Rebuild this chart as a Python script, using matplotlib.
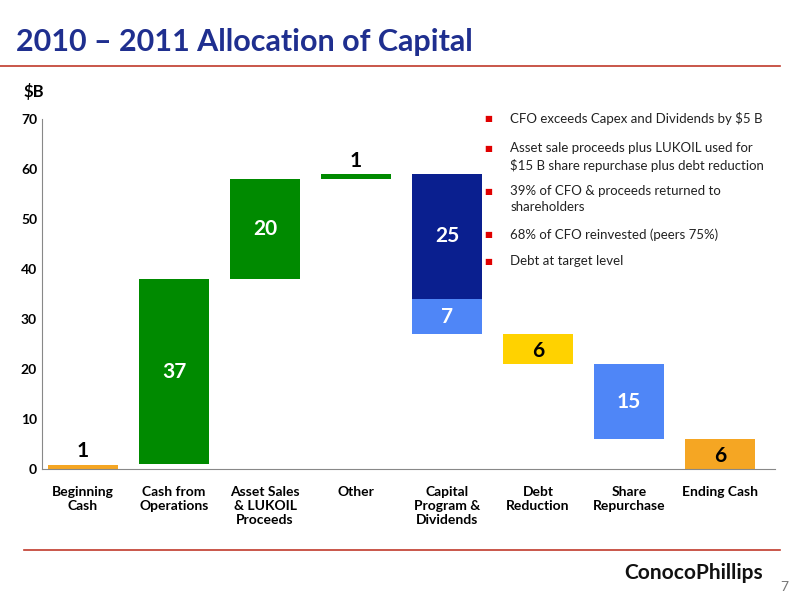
import matplotlib.pyplot as plt

plt.rcParams['font.family'] = ['Lato', 'DejaVu Sans']

categories = ['Beginning\nCash', 'Cash from\nOperations', 'Asset Sales\n& LUKOIL\nProceeds', 'Other',
              'Capital\nProgram &\nDividends', 'Debt\nReduction', 'Share\nRepurchase', 'Ending Cash']
# (position, bottom, height, colour, label) per segment
segments = [
    (0, 0, 1, '#F5A623', '1'),
    (1, 1, 37, '#008A00', '37'),
    (2, 38, 20, '#008A00', '20'),
    (3, 58, 1, '#008A00', '1'),
    (4, 34, 25, '#0A1F8F', '25'),
    (4, 27, 7, '#4F86F7', '7'),
    (5, 21, 6, '#FFD200', '6'),
    (6, 6, 15, '#4F86F7', '15'),
    (7, 0, 6, '#F5A623', '6'),
]
bullets = ['CFO exceeds Capex and Dividends by $5 B',
           'Asset sale proceeds plus LUKOIL used for\n$15 B share repurchase plus debt reduction',
           '39% of CFO & proceeds returned to\nshareholders',
           '68% of CFO reinvested (peers 75%)',
           'Debt at target level']

fig = plt.figure(figsize=(8, 6), dpi=100)
ax = fig.add_axes([0.0525, 0.218, 0.916, 0.584])
for x, b, h, c, lab in segments:
    hh = 0.8 if x == 0 else 0.9 if x == 3 else h
    ax.bar(x, hh, bottom=b, width=0.77, color=c)
    if x in (0, 3):
        ax.text(x, b + h + 0.6, lab, ha='center', va='bottom', fontsize=15, fontweight='bold')
    elif x in (5, 7):
        ax.text(x, b + h / 2 - 0.3, lab, ha='center', va='center', fontsize=15, fontweight='bold', color='black')
    else:
        ax.text(x, b + h / 2, lab, ha='center', va='center', fontsize=15, fontweight='bold', color='white')

ax.set_xlim(-0.45, 7.6)
ax.set_ylim(0, 70)
ax.set_yticks(range(0, 71, 10))
ax.set_xticks(range(len(categories)))
ax.set_xticklabels(categories, fontsize=10, fontweight='bold', va='top')
ax.tick_params(axis='x', length=0, pad=12)
ax.tick_params(axis='y', length=0, labelsize=10)
for t in ax.get_yticklabels():
    t.set_fontweight('bold')
for s in ['top', 'right']:
    ax.spines[s].set_visible(False)
ax.spines['left'].set_color('#888888')
ax.spines['bottom'].set_color('#888888')

fig.text(0.02, 0.915, '2010 – 2011 Allocation of Capital', fontsize=22, fontweight='bold', color='#1F2F8F')
fig.add_artist(plt.Line2D([0.0, 0.975], [0.89, 0.89], color='#C0392B', lw=1.2))
fig.add_artist(plt.Line2D([0.03, 0.975], [0.083, 0.083], color='#C0392B', lw=1.2))
fig.text(0.03, 0.838, '$B', fontsize=12, fontweight='bold')

ys = [0.805, 0.755, 0.684, 0.612, 0.567]
for y, t in zip(ys, bullets):
    fig.text(0.605, y + 0.003, '■', fontsize=6, color='#E00000', va='top')
    fig.text(0.638, y + 0.008, t, fontsize=9.5, va='top', linespacing=1.4, color='#222222')

fig.text(0.78, 0.035, 'ConocoPhillips', fontsize=15, fontweight='bold', color='#111111')
fig.text(0.975, 0.015, '7', fontsize=10, color='#777777')
fig.savefig('out.png')
